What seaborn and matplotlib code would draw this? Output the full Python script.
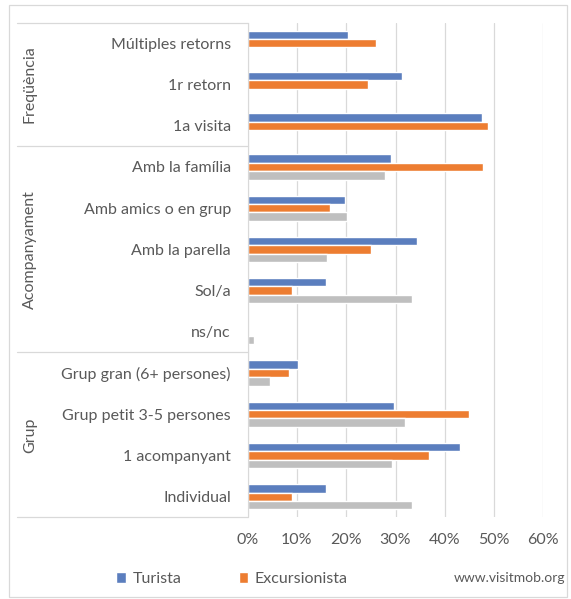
import matplotlib.pyplot as plt
import matplotlib.transforms as mtransforms
from matplotlib.patches import Patch, Rectangle
from matplotlib.lines import Line2D
from matplotlib.ticker import PercentFormatter
import seaborn as sns
import pandas as pd
import numpy as np

# Chart data
categories = ['Múltiples retorns', '1r retorn', '1a visita',
              'Amb la família', 'Amb amics o en grup', 'Amb la parella', 'Sol/a', 'ns/nc',
              'Grup gran (6+ persones)', 'Grup petit 3-5 persones', '1 acompanyant', 'Individual']
turista = [20.3, 31.4, 47.6, 29.1, 19.7, 34.3, 15.9, np.nan, 10.3, 29.7, 43.0, 15.9]
excursionista = [26.1, 24.4, 48.8, 47.8, 16.8, 25.0, 9.1, np.nan, 8.3, 44.9, 36.8, 9.1]
total = [np.nan, np.nan, np.nan, 27.8, 20.1, 16.2, 33.4, 1.3, 4.6, 31.9, 29.2, 33.4]
groups = ['Freqüència', 'Acompanyament', 'Grup']
group_sizes = [3, 5, 4]
series = ['Turista', 'Excursionista', 'Total']
colors = ['#5B7EBE', '#ED7D31', '#BFBFBF']

df = pd.DataFrame({'Categoria': categories, 'Turista': turista,
                   'Excursionista': excursionista, 'Total': total})
long = df.melt(id_vars='Categoria', var_name='Serie', value_name='Valor')
long['Valor'] = long['Valor'] / 100

sns.set_style("white")
plt.rcParams['font.family'] = ['Lato', 'DejaVu Sans']

W, H = 571, 599
FS = 11.5
fig = plt.figure(figsize=(W / 100, H / 100), dpi=100)
ax = fig.add_axes([247.6 / W, 1 - 517.3 / H, (543.4 - 247.6) / W, (517.3 - 22.7) / H])

sns.barplot(data=long, y='Categoria', x='Valor', hue='Serie', order=categories,
            hue_order=series, palette=colors, orient='h', width=0.61,
            saturation=1, legend=False, ax=ax)

ax.set_xlim(0, 0.6)
ax.set_ylim(len(categories) - 0.5, -0.5)
ax.xaxis.set_major_formatter(PercentFormatter(1.0, decimals=0))
ax.set_xticks(np.arange(0, 0.61, 0.1))
ax.grid(axis='x', color='#D9D9D9', linewidth=0.9)
ax.set_axisbelow(True)
ax.set_xlabel('')
ax.set_ylabel('')
for s in ['top', 'right', 'bottom']:
    ax.spines[s].set_visible(False)
ax.spines['left'].set_color('#D9D9D9')
ax.tick_params(axis='y', length=0, pad=12, labelsize=FS, labelcolor='#595959')
ax.tick_params(axis='x', length=0, pad=11, labelsize=FS, labelcolor='#595959')

# Group labels and separators on the left
trans = mtransforms.blended_transform_factory(fig.transFigure, ax.transData)
start = 0
bounds = [-0.5]
for g, n in zip(groups, group_sizes):
    mid = start + (n - 1) / 2
    ax.text(30 / W, mid, g, transform=trans, rotation=90, ha='center', va='center',
            fontsize=FS, color='#595959')
    start += n
    bounds.append(start - 0.5)
for b in bounds:
    ax.add_line(Line2D([17 / W, 247.6 / W], [b, b], transform=trans,
                       color='#D9D9D9', linewidth=0.9, clip_on=False))

# Legend (only the two named series)
handles = [Patch(facecolor=colors[0], label='Turista'),
           Patch(facecolor=colors[1], label='Excursionista')]
fig.legend(handles=handles, loc='center left', bbox_to_anchor=(102 / W, 1 - 579 / H),
           ncol=2, frameon=False, fontsize=FS, handlelength=0.6, handleheight=0.7,
           handletextpad=0.4, columnspacing=3.6, labelcolor='#595959')

fig.text(565 / W, 1 - 578 / H, 'www.visitmob.org', ha='right', va='center',
         fontsize=10, color='#595959')

# Outer chart border
fig.patches.append(Rectangle((9 / W, 1 - 597 / H), (567 - 9) / W, (597 - 5) / H,
                             transform=fig.transFigure, fill=False,
                             edgecolor='#D9D9D9', linewidth=0.9))

fig.savefig('out.png', dpi=100)
